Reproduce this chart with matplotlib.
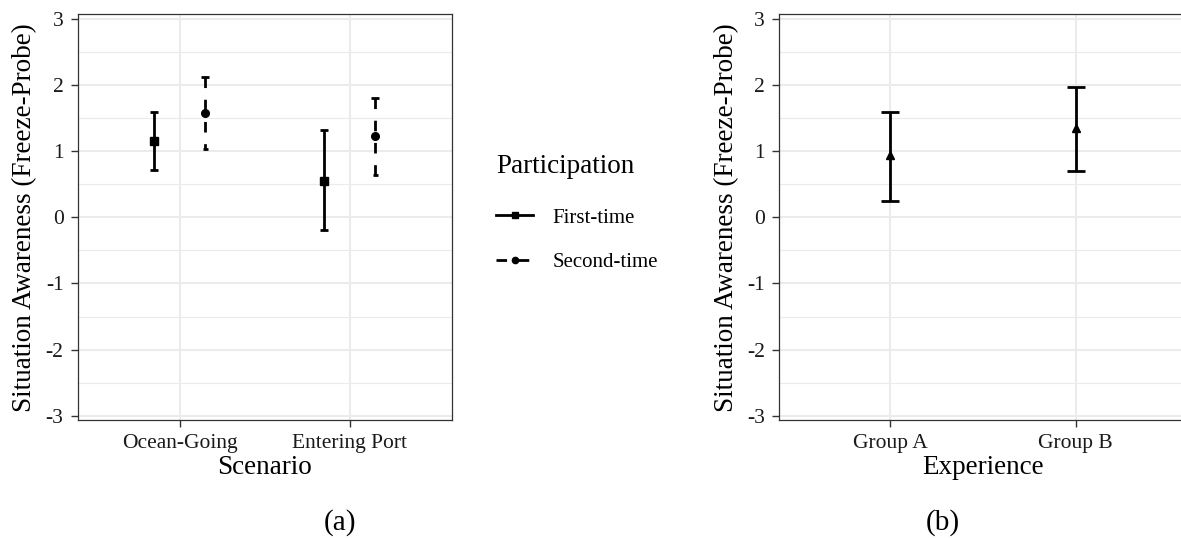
import matplotlib
matplotlib.use("Agg")
import matplotlib.pyplot as plt
from matplotlib.lines import Line2D
import numpy as np

plt.rcParams['font.family'] = ['Liberation Serif', 'DejaVu Serif']
plt.rcParams['axes.unicode_minus'] = False

# ---- data ----
scenarios = ["Ocean-Going", "Entering Port"]
participation = ["First-time", "Second-time"]
first_mean = [1.15, 0.55]
first_lo = [0.72, -0.19]
first_hi = [1.59, 1.32]
second_mean = [1.57, 1.23]
second_lo = [1.03, 0.64]
second_hi = [2.12, 1.81]

groups = ["Group A", "Group B"]
exp_mean = [0.94, 1.35]
exp_lo = [0.24, 0.70]
exp_hi = [1.60, 1.97]

yticks = [-3, -2, -1, 0, 1, 2, 3]

W, H = 1181, 538
fig = plt.figure(figsize=(W / 100, H / 100), dpi=100)

def px_axes(x0, x1, y0, y1):
    return fig.add_axes([x0 / W, 1 - y1 / H, (x1 - x0) / W, (y1 - y0) / H])

GRID = "#EBEBEB"
TXT = "#333333"

def style(ax, cats, xlabel):
    ax.set_xlim(0.4, len(cats) + 0.6)
    ax.set_ylim(-3.065, 3.07)
    ax.set_yticks(yticks)
    ax.set_yticklabels([str(v) for v in yticks])
    ax.set_yticks([-2.5, -1.5, -0.5, 0.5, 1.5, 2.5], minor=True)
    ax.set_xticks(np.arange(1, len(cats) + 1))
    ax.set_xticklabels(cats)
    ax.grid(True, which="major", color=GRID, lw=1.5, zorder=0)
    ax.grid(True, which="minor", axis="y", color=GRID, lw=0.8, zorder=0)
    ax.set_axisbelow(True)
    ax.tick_params(axis="both", which="major", labelsize=15.5, colors=TXT,
                   length=5.2, width=1.0, pad=5)
    ax.tick_params(axis="y", which="minor", length=0)
    for lab in ax.get_xticklabels() + ax.get_yticklabels():
        lab.set_color("#1a1a1a")
    for s in ax.spines.values():
        s.set_color(TXT)
        s.set_linewidth(0.9)
    ax.set_ylabel("Situation Awareness (Freeze-Probe)", fontsize=19.5, va="center")
    ax.set_xlabel(xlabel, fontsize=19.5, va="center")

# ---- panel (a) ----
ax1 = px_axes(77.7, 451.7, 14.3, 420)
style(ax1, scenarios, "Scenario")
x = np.arange(1, len(scenarios) + 1)
dodge = 0.15
cw1 = 0.024
xf = x - dodge
xs = x + dodge
LW = 2.0
ax1.vlines(xf, first_hi, first_lo, colors="black", lw=LW, zorder=3)
ax1.hlines(first_hi, xf - cw1, xf + cw1, colors="black", lw=LW, zorder=3)
ax1.hlines(first_lo, xf - cw1, xf + cw1, colors="black", lw=LW, zorder=3)
ax1.plot(xf, first_mean, ls="none", marker="s", ms=6, color="black", zorder=4)

ax1.vlines(xs, second_hi, second_lo, colors="black", lw=LW,
           linestyles=[(0, (3.8, 4.2))], zorder=3)
ax1.hlines(second_hi, xs - cw1, xs + cw1, colors="black", lw=LW, zorder=3)
ax1.hlines(second_lo, xs - cw1 * 0.6, xs + cw1 * 0.6, colors="black", lw=LW, zorder=3)
ax1.plot(xs, second_mean, ls="none", marker="o", ms=5.5, color="black", zorder=4)

ax1.yaxis.set_label_coords((25 - 77.7) / 374, 0.5)
ax1.xaxis.set_label_coords(0.5, (420 - 468) / 405.7)

handles = [
    Line2D([], [], color="black", lw=LW, marker="s", ms=5),
    Line2D([], [], color="black", lw=LW, ls=(0, (3.8, 4.2)), marker="o", ms=4.5),
]
leg = fig.legend(handles, participation, title="Participation",
                 loc="upper left", bbox_to_anchor=(496.5 / W, 1 - 154 / H),
                 frameon=False, fontsize=15, title_fontsize=19.5,
                 handlelength=1.75, handletextpad=0.95, labelspacing=1.2,
                 borderpad=0, borderaxespad=0, alignment="left")
leg._legend_box.sep = 21.0

# ---- panel (b) ----
ax2 = px_axes(779.1, 1186.9, 14.3, 420)
style(ax2, groups, "Experience")
xg = np.arange(1, len(groups) + 1)
cw2 = 0.049
ax2.vlines(xg, exp_lo, exp_hi, colors="black", lw=LW, zorder=3)
ax2.hlines(exp_hi, xg - cw2, xg + cw2, colors="black", lw=LW, zorder=3)
ax2.hlines(exp_lo, xg - cw2, xg + cw2, colors="black", lw=LW, zorder=3)
ax2.plot(xg, exp_mean, ls="none", marker="^", ms=6, color="black", zorder=4)
ax2.yaxis.set_label_coords((25 - 77.7) / 407.8, 0.5)
ax2.xaxis.set_label_coords(0.5, (420 - 468) / 405.7)

# captions
fig.text(340 / W, 1 - 523 / H, "(a)", fontsize=21, ha="center", va="center")
fig.text(943 / W, 1 - 523 / H, "(b)", fontsize=21, ha="center", va="center")

fig.savefig("out.png", dpi=100)
